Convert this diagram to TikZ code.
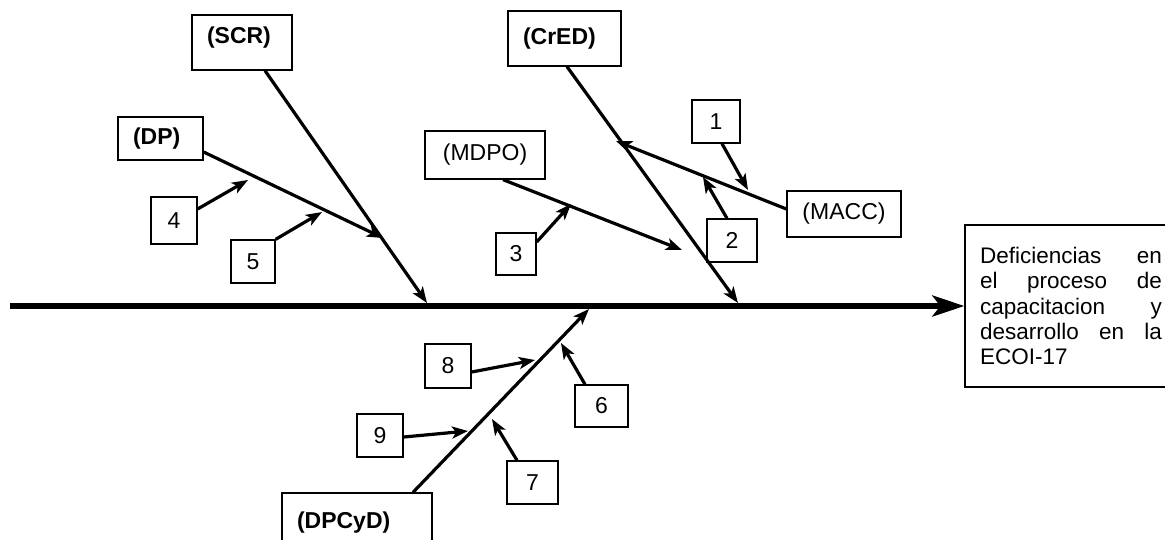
\documentclass[tikz,border=0pt]{standalone}
\usepackage{fontspec}
\setmainfont{Liberation Sans}
\usetikzlibrary{arrows.meta}
\begin{document}
\begin{tikzpicture}[x=1pt,y=-1pt,
  lbl/.style={draw, line width=1.3pt, inner sep=0pt, font=\fontsize{23}{26}\selectfont},
  lblb/.style={lbl, font=\fontsize{23}{26}\selectfont\bfseries, align=left, inner xsep=15pt},
  bone/.style={line width=3.2pt, -{Stealth[length=16pt,width=12pt,inset=4pt]}},
  spine/.style={line width=5.5pt, -{Stealth[length=32pt,width=21pt,inset=8pt]}}]
\useasboundingbox (0,0) rectangle (1165,539);
\clip (0,0) rectangle (1165,539);

% category boxes
\node[lblb, text width=70pt, minimum height=55pt] (scr) at (242,42.5) {\raisebox{5pt}[\height][\depth]{(SCR)}};
\node[lblb, text width=55pt, minimum height=43pt] (dp) at (160.5,138.5) {(DP)};
\node[lblb, text width=83pt, minimum height=55pt] (cred) at (564.5,38.5) {(CrED)};
\node[lbl, minimum width=120pt, minimum height=48pt] (mdpo) at (485,155) {(MDPO)};
\node[lbl, minimum width=114pt, minimum height=46pt] (macc) at (844,214) {(MACC)};
\node[lblb, text width=120pt, minimum height=60pt] (dpcyd) at (357,523) {(DPCyD)};

% numbered boxes
\node[lbl, minimum width=48pt, minimum height=43pt] (n1) at (716,121.5) {1};
\node[lbl, minimum width=50pt, minimum height=43pt] (n2) at (732,240.5) {2};
\node[lbl, minimum width=40pt, minimum height=42pt] (n3) at (516,254) {3};
\node[lbl, minimum width=46pt, minimum height=47pt] (n4) at (174,220.5) {4};
\node[lbl, minimum width=44pt, minimum height=43pt] (n5) at (253,261.5) {5};
\node[lbl, minimum width=53pt, minimum height=42pt] (n6) at (601.5,406) {6};
\node[lbl, minimum width=51pt, minimum height=43pt] (n7) at (532.5,482.5) {7};
\node[lbl, minimum width=46pt, minimum height=44pt] (n8) at (448,366) {8};
\node[lbl, minimum width=46pt, minimum height=43pt] (n9) at (380,435.5) {9};

% effect box
\node[lbl, align=justify, text width=182pt, inner xsep=15pt, minimum height=162pt,
      font=\fontsize{22.5}{25.4}\selectfont] (eff) at (1071,306)
  {Deficiencias\hfill en\\ el\hfill proceso\hfill de\\ capacitacion\hfill y\\ desarrollo\hfill en\hfill la\\ ECOI-17};

% free ends of connectors
\coordinate (s0) at (10,306);
\coordinate (tscr) at (427,303);
\coordinate (tdp) at (383,238);
\coordinate (tcred) at (738,303);
\coordinate (tmacc) at (616,141);
\coordinate (tmdpo) at (682,250);
\coordinate (tdpcyd) at (589,309);
\coordinate (t1) at (748,190);
\coordinate (t2) at (703,177);
\coordinate (t3) at (571,204);
\coordinate (t4) at (248,180);
\coordinate (t5) at (322,212);
\coordinate (t6) at (561,343);
\coordinate (t7) at (492,419);
\coordinate (t8) at (535,360);
\coordinate (t9) at (468,431);

% spine
\draw[spine] (s0) -- (eff.west);

% main bones
\draw[bone] ([xshift=23pt]scr.south) -- (tscr);
\draw[bone] ([yshift=-13.5pt]dp.east) -- (tdp);
\draw[bone] ([xshift=2.5pt]cred.south) -- (tcred);
\draw[bone] ([yshift=5pt]macc.west) -- (tmacc);
\draw[bone] ([xshift=18pt]mdpo.south) -- (tmdpo);
\draw[bone] ([xshift=56pt]dpcyd.north) -- (tdpcyd);

% minor causes
\draw[bone] ([xshift=6pt]n1.south) -- (t1);
\draw[bone] ([xshift=-5pt]n2.north) -- (t2);
\draw[bone] ([yshift=12pt]n3.east) -- (t3);
\draw[bone] ([yshift=11.5pt]n4.east) -- (t4);
\draw[bone] (n5.north east) -- (t5);
\draw[bone] ([xshift=-16.5pt]n6.north) -- (t6);
\draw[bone] ([xshift=-15.5pt]n7.north) -- (t7);
\draw[bone] ([yshift=-6pt]n8.east) -- (t8);
\draw[bone] ([yshift=-1.5pt]n9.east) -- (t9);
\end{tikzpicture}
\end{document}
